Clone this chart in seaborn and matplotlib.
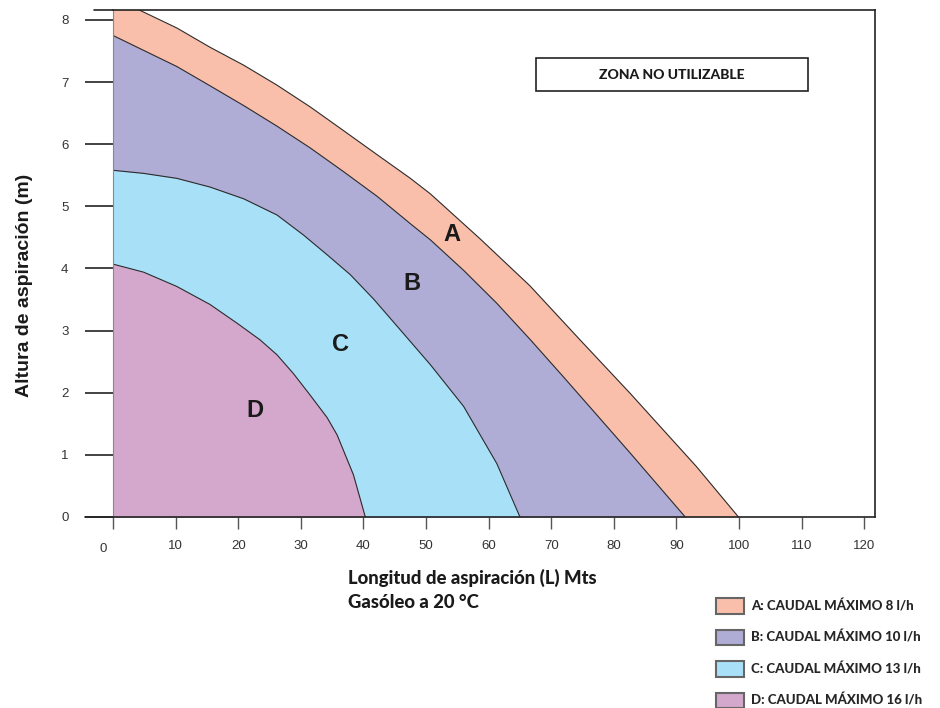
import matplotlib
matplotlib.use('Agg')
import matplotlib.pyplot as plt
import matplotlib.patches as mpatches
from matplotlib.transforms import ScaledTranslation
import seaborn as sns

# Zone boundaries: x = suction length (m), y = suction height (m)
a_x = [0, 4.4, 10.2, 15.5, 20.9, 26.2, 31.5, 36.8, 42.2, 47.5, 50.7, 58.6, 66.6, 74.6, 82.6, 87.9, 93.2, 99.9]
a_y = [8.35, 8.15, 7.87, 7.56, 7.27, 6.95, 6.60, 6.22, 5.83, 5.45, 5.20, 4.48, 3.72, 2.85, 1.99, 1.40, 0.81, 0]
b_x = [0, 10.2, 15.5, 20.9, 26.2, 31.5, 36.8, 42.2, 47.5, 50.7, 56.0, 61.3, 66.6, 71.9, 77.3, 82.6, 91.4]
b_y = [7.75, 7.25, 6.94, 6.62, 6.29, 5.94, 5.56, 5.16, 4.72, 4.46, 3.97, 3.44, 2.86, 2.26, 1.64, 1.03, 0]
c_x = [0, 4.9, 10.2, 15.5, 20.9, 26.2, 30.4, 34.2, 37.9, 41.6, 45.9, 50.7, 56.0, 61.3, 65.0]
c_y = [5.58, 5.53, 5.45, 5.31, 5.12, 4.86, 4.54, 4.22, 3.90, 3.51, 3.01, 2.45, 1.78, 0.86, 0]
d_x = [0, 4.9, 10.2, 15.5, 19.8, 23.5, 26.2, 28.8, 31.5, 34.2, 35.8, 38.4, 40.3]
d_y = [4.07, 3.94, 3.71, 3.42, 3.12, 2.85, 2.61, 2.31, 1.96, 1.60, 1.32, 0.68, 0]

zones = ['A', 'B', 'C', 'D']
legend_labels = ['A: CAUDAL MÁXIMO 8 l/h', 'B: CAUDAL MÁXIMO 10 l/h',
                 'C: CAUDAL MÁXIMO 13 l/h', 'D: CAUDAL MÁXIMO 16 l/h']
colors = ['#f9bfab', '#afacd5', '#a8e0f8', '#d4a7cc']
x_ticks = list(range(0, 121, 10))
y_ticks = list(range(0, 9))

sns.set_style('ticks')
plt.rcParams['font.family'] = ['Liberation Sans', 'DejaVu Sans']
lato = ['Lato', 'DejaVu Sans']

fig = plt.figure(figsize=(9.4, 7.08), dpi=100)
ax = fig.add_axes([0.1202, 0.2698, 0.8106, 0.7161])

# outer zone first, inner zones painted over it
for xs, ys, col in zip([a_x, b_x, c_x, d_x], [a_y, b_y, c_y, d_y], colors):
    ax.fill_between(xs, ys, 0, color=col, lw=0)
    sns.lineplot(x=xs, y=ys, color='#2b2b2b', lw=0.8, ax=ax,
                 estimator=None, sort=False)

ax.set_xlim(0, 121.7)
ax.set_ylim(0, 8.16)
ax.set_xticks(x_ticks)
ax.set_yticks(y_ticks)
ax.tick_params(axis='y', direction='out', length=20, width=1.2, color='#222',
               pad=12, labelsize=9.5, labelcolor='#333')
ax.tick_params(axis='x', direction='out', length=8.6, width=1, color='#555',
               pad=8, labelsize=9.5, labelcolor='#333')
# the "0" label sits a little to the left of its tick
lbl0 = ax.get_xticklabels()[0]
lbl0.set_transform(lbl0.get_transform() + ScaledTranslation(-10 / 100, -3 / 100, fig.dpi_scale_trans))

ax.spines['left'].set_color('#888')
ax.spines['left'].set_linewidth(0.8)
for side in ['bottom', 'top', 'right']:
    ax.spines[side].set_color('#222')
    ax.spines[side].set_linewidth(1.2)
# frame lines run past the left edge in the original
ax.plot([-0.037, 0], [0, 0], transform=ax.transAxes, clip_on=False, color='#222', lw=1.2)
ax.plot([-0.025, 0], [1, 1], transform=ax.transAxes, clip_on=False, color='#222', lw=1.2)

# zone letters
for z, (tx, ty) in zip(zones, [(54.2, 4.54), (47.8, 3.75), (36.4, 2.77), (22.6, 1.72)]):
    ax.text(tx, ty, z, fontsize=17, fontweight='bold', color='#1a1a1a',
            ha='center', va='center')

# "zona no utilizable" box
ax.add_patch(mpatches.Rectangle((0.555, 0.840), 0.357, 0.065, transform=ax.transAxes,
                                fill=False, ec='#222', lw=1.2))
ax.text(0.7335, 0.8725, 'ZONA NO UTILIZABLE', transform=ax.transAxes, ha='center',
        va='center', fontsize=10, fontweight='black', family=lato, color='#1a1a1a')

ax.set_ylabel('Altura de aspiración (m)', fontsize=14, fontweight='bold',
              color='#1a1a1a', va='center')
ax.yaxis.set_label_coords(-0.1155, 0.4576)
ax.set_xlabel('Longitud de aspiración (L) Mts\nGasóleo a 20 °C', fontsize=13.3,
              fontweight='black', family=lato, color='#1a1a1a',
              ha='left', va='top', linespacing=1.5)
ax.xaxis.set_label_coords((348 - 113) / 762, -0.1030)

handles = [mpatches.Patch(facecolor=c, edgecolor='#666', lw=1.5) for c in colors]
fig.legend(handles, legend_labels, loc='upper left',
           bbox_to_anchor=(716 / 940, 1 - 598 / 708), frameon=False,
           borderpad=0, borderaxespad=0, handlelength=2.1, handleheight=1.45,
           handletextpad=0.55, labelspacing=1.2,
           prop={'family': lato, 'weight': 'black', 'size': 9.5})

fig.savefig('out.png', dpi=100)
